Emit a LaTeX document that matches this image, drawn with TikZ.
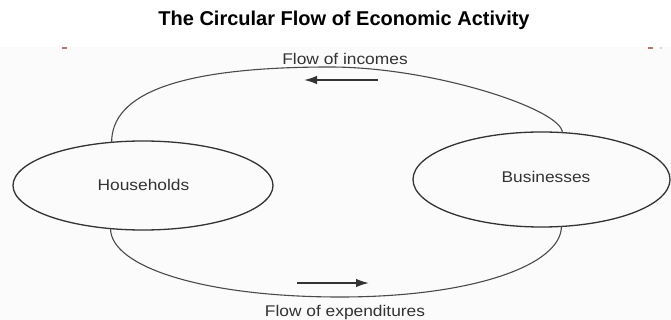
\documentclass[tikz,border=0pt]{standalone}
\usepackage{fontspec}
\setmainfont{Liberation Sans}
\newfontfamily\labelfont[FakeStretch=1.12]{Liberation Sans}
\usetikzlibrary{shapes.geometric,arrows.meta}
\definecolor{ink}{HTML}{333333}
\definecolor{arcink}{HTML}{4a4a4a}
\definecolor{paper}{HTML}{FBFBFB}
\definecolor{tick}{HTML}{B07A6A}
\begin{document}
\begin{tikzpicture}[x=1pt,y=-1pt,
  sector/.style={ellipse, draw=ink, line width=1.3pt, inner sep=0pt, outer sep=0pt,
    font=\labelfont\fontsize{15.5}{18}\selectfont, text=ink},
  flowlabel/.style={anchor=base, inner sep=0pt, font=\labelfont\fontsize{15.5}{18}\selectfont, text=ink},
  heading/.style={anchor=base, inner sep=0pt, font=\bfseries\fontsize{20}{24}\selectfont},
  flowline/.style={draw=arcink, line width=1.1pt},
  flowarrow/.style={draw=ink, line width=1.6pt, -{Latex[length=13pt,width=8.5pt]}}]
  \useasboundingbox (0,0) rectangle (671,320);
  \fill[white] (0,0) rectangle (671,320);
  \fill[paper] (0,47) rectangle (671,320);
  % small marks along the upper edge of the panel
  \fill[tick] (62,47.2) rectangle (67,48.8);
  \fill[tick] (648,47.2) rectangle (653,48.8);
  \fill[black!30] (661,48) circle (0.8);

  \node[heading] (title) at (344,26) {The Circular Flow of Economic Activity};

  % the two sectors
  \node[sector, minimum width=260pt, minimum height=89pt] (H) at (143,185.5) {};
  \node[flowlabel] (Hlab) at (143.5,191) {Households};
  \node[sector, minimum width=257pt, minimum height=95pt] (B) at (541.5,179.5) {};
  \node[flowlabel] (Blab) at (546,183) {Businesses};

  % flow of incomes (upper loop)
  \coordinate (topmid) at (330,67);
  \draw[flowline] (H.126.6) .. controls +(0,-48) and +(-153,0) .. (topmid)
                  .. controls +(104,0) and +(0,-23) .. (B.66.4);
  \node[flowlabel] (inclab) at (345,65) {Flow of incomes};
  \coordinate (incA) at (378,80);
  \coordinate (incB) at (304,80);
  \draw[flowarrow] (incA) -- (incB);

  % flow of expenditures (lower loop)
  \coordinate (botmid) at (340,297);
  \draw[flowline] (H.233.4) .. controls +(0,38) and +(-137,0) .. (botmid)
                  .. controls +(133,0) and +(0,38.5) .. (B.293.6);
  \node[flowlabel] (explab) at (345,316) {Flow of expenditures};
  \coordinate (expA) at (297,283);
  \coordinate (expB) at (369,283);
  \draw[flowarrow] (expA) -- (expB);
\end{tikzpicture}
\end{document}
